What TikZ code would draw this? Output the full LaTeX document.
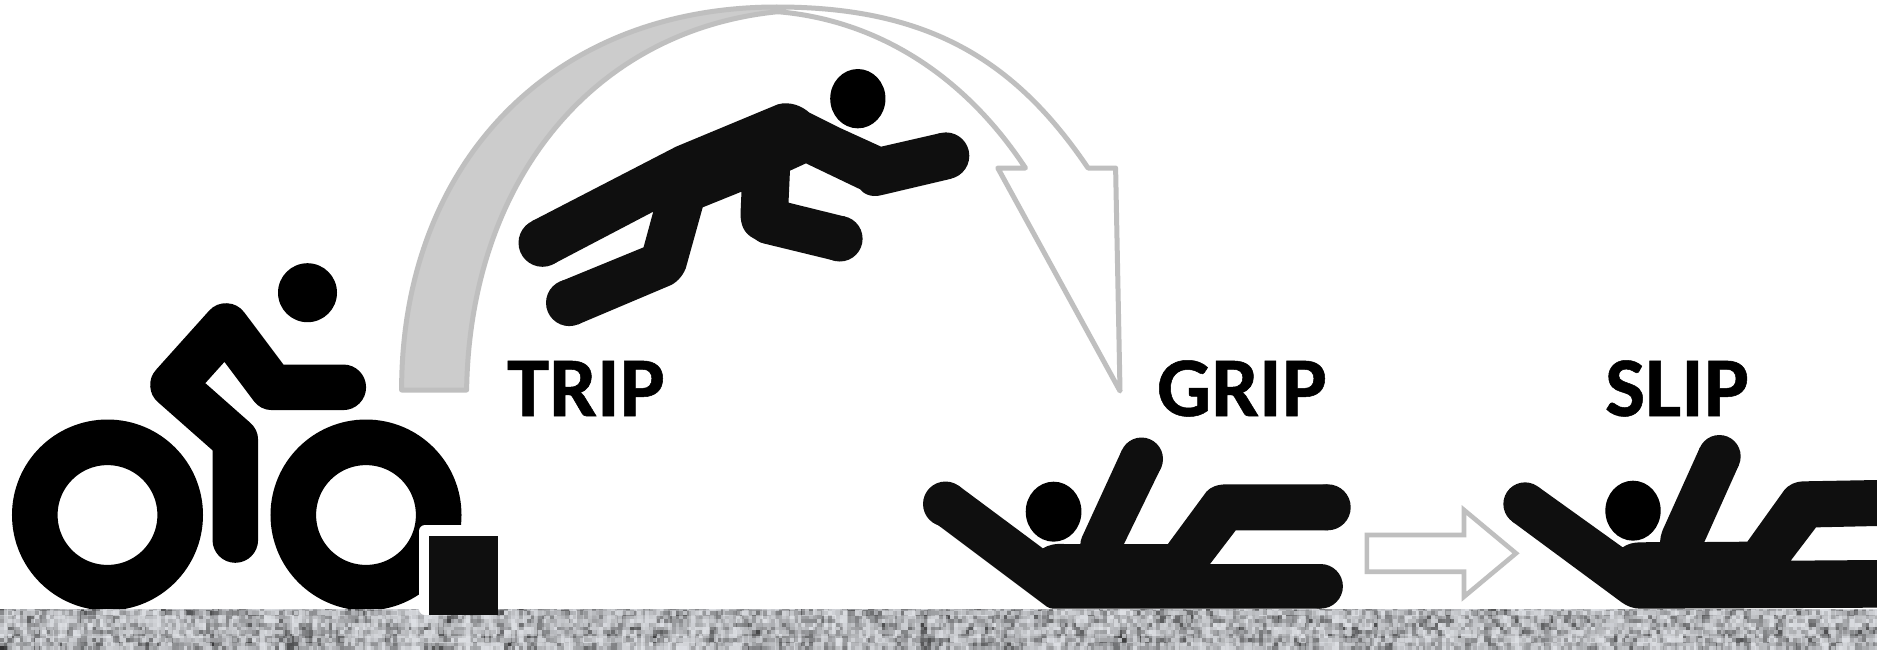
\documentclass[tikz,border=0pt]{standalone}
\usepackage{fontspec}
\setmainfont[BoldFeatures={FakeBold=0.6}]{Carlito}
\definecolor{arcline}{HTML}{BFBFBF}
\definecolor{arcfill}{HTML}{CCCCCC}
\definecolor{figdark}{HTML}{0F0F0F}
\pgfdeclarefunctionalshading{gndnoise}{\pgfpoint{0pt}{0pt}}{\pgfpoint{938.5pt}{20.5pt}}{}{
  2 copy 2 copy
  exch 1.9 div floor 127.1 mul exch 1.9 div floor 311.7 mul add sin 4375.85 mul dup floor sub
  3 1 roll
  exch 3.3 div floor 269.5 mul exch 3.3 div floor 183.3 mul add sin 3758.54 mul dup floor sub
  0.36 mul exch 0.4 mul add
  3 1 roll
  exch 5.7 div floor 419.2 mul exch 5.7 div floor 97.1 mul add sin 2931.17 mul dup floor sub
  0.24 mul add
  1 exch sub dup mul 0.78 mul 1 exch sub 0.87 mul
  dup dup 1.01 mul exch 1.03 mul
}
\tikzset{
  arcpath/.style={draw=arcline,line width=2.5pt,line join=round},
  figfill/.style={fill=figdark},
  figblack/.style={fill=black},
  limb/.style={draw=black,line width=22.8pt,line cap=round,line join=round},
  wheel/.style={draw=black,line width=22.8pt},
  caption/.style={font=\fontsize{42.5pt}{42.5pt}\selectfont\bfseries,anchor=base,inner sep=0pt,text=black},
}
\begin{document}
\begin{tikzpicture}[x=0.5pt,y=-0.5pt]
\useasboundingbox (0,0) rectangle (1877,649);
\fill[white] (0,0) rectangle (1877,649);
% long curved arrow
\draw[arcpath,fill=arcfill] (401.6,390) .. controls (401.6,165) and (550,7) .. (776.8,7)
  -- (777.8,11.7) .. controls (593.6,30) and (470,180) .. (466.6,390) -- cycle;
\draw[arcpath,fill=white] (776.8,7) .. controls (928,7) and (1015,60) .. (1088,168)
  -- (1115.6,168) -- (1120,391) -- (997.8,168) -- (1025.4,168)
  .. controls (964.3,75) and (877,20) .. (777.8,11.7) -- cycle;
% flying figure
\begin{scope}[shift={(390,0)},x=0.2424pt,y=-0.16667pt]
\fill[figblack] (965,296) ellipse [x radius=57, y radius=89];
\fill[figfill] (800,313) .. controls (825,303) and (850,318) .. (865,338) -- (930,385) -- (1013,440) -- (1136,399)
 -- (1158,536)
 -- (1015,585) .. controls (990,595) and (975,578) .. (970,568) -- (858,490) -- (825,512) -- (822,608) -- (939,650)
 -- (917,782)
 -- (770,730) .. controls (760,727) and (755,718) .. (750,715) .. controls (730,700) and (723,675) .. (723,640)
 -- (725,575) -- (645,622) -- (610,805) .. controls (603,830) and (590,850) .. (575,858)
 -- (388,973) -- (352,844)
 -- (523,742) -- (543,635) -- (337,792) -- (292,664) -- (590,440) -- cycle;
\end{scope}
\fill[figfill] (945.9,155.8) circle (23.4);
\fill[figfill] (839.8,238.7) circle (22.8);
\fill[figfill] (569.3,302.8) circle (23.3);
\fill[figfill] (542.5,242.8) circle (24);
% lying figure 1
\begin{scope}[shift={(900,340)},x=0.17857pt,y=-0.16667pt]
\fill[figblack] (430,515) ellipse [x radius=78, y radius=90];
\fill[figfill] (400,625) -- (164,437) -- (90,542) -- (405,795) .. controls (410,800) and (420,806) .. (430,806)
 -- (1177,806) -- (1177,672)
 -- (868,672) -- (940,571) -- (1197,571) -- (1197,433) -- (915,433) .. controls (890,433) and (870,440) .. (858,455)
 -- (750,612) -- (627,612) -- (731,383) -- (621,331) -- (510,590) .. controls (507,597) and (505,605) .. (505,612)
 -- (460,612) .. controls (435,610) and (415,615) .. (400,625) -- cycle;
\end{scope}
\fill[figfill] (945.5,504) circle (22.5);
\fill[figfill] (1320.6,586.3) circle (22.3);
\fill[figfill] (1327.7,507.3) circle (23);
\fill[figfill] (1141.5,459) circle (21.5);
% lying figure 2
\begin{scope}[shift={(1440,340)},x=0.16667pt,y=-0.16667pt]
\fill[figblack] (579,512) ellipse [x radius=83, y radius=90];
\fill[figfill] (548,622) -- (293.5,439.6) -- (216.5,544.4) -- (545,787) .. controls (560,798) and (580,806) .. (600,806)
 -- (1311,803) -- (1311,660) -- (1052,662) -- (1128,562) -- (1311,558) -- (1311,420) -- (1090,424)
 .. controls (1065,425) and (1045,435) .. (1033,450) -- (922,605) -- (793,606) -- (896.6,374.9) -- (779.4,323)
 -- (668,570) .. controls (663,585) and (660,595) .. (660,606) -- (600,607) .. controls (580,607) and (562,612) .. (548,622) -- cycle;
\fill[figfill] (255,492) circle (65);
\fill[figfill] (838,349) circle (64);
\end{scope}
% small arrow
\draw[draw=arcline,line width=2.3pt,miter limit=10,fill=white] (1366.8,535) -- (1464,535) -- (1464,510) -- (1516,553.3)
  -- (1464,596.7) -- (1464,571.7) -- (1366.8,571.7) -- cycle;
% cyclist
\fill[figblack] (307.5,292.7) circle (29.5);
\draw[wheel] (107.5,515) circle (72.7);
\draw[wheel] (366,515) circle (72.7);
\draw[limb] (235.3,540) -- (235.3,440) -- (173,385) -- (226,326) -- (272,387.3) -- (343.3,387.3);
% ground texture
\node[inner sep=0pt,outer sep=0pt,anchor=north west] (ground) at (0,608) {\pgfuseshading{gndnoise}};
% obstacle
\fill[white,rounded corners=3pt] (419,525) rectangle (470,615);
\fill[white] (440,525) rectangle (462,615);
\fill[white] (440,536) rectangle (498,615);
\fill[figdark] (429,536) rectangle (498,615);
% labels
\node[caption] (trip) at (586,416) {TRIP};
\node[caption] (grip) at (1242,416) {GRIP};
\node[caption] (slip) at (1677,416) {SLIP};
\end{tikzpicture}
\end{document}
